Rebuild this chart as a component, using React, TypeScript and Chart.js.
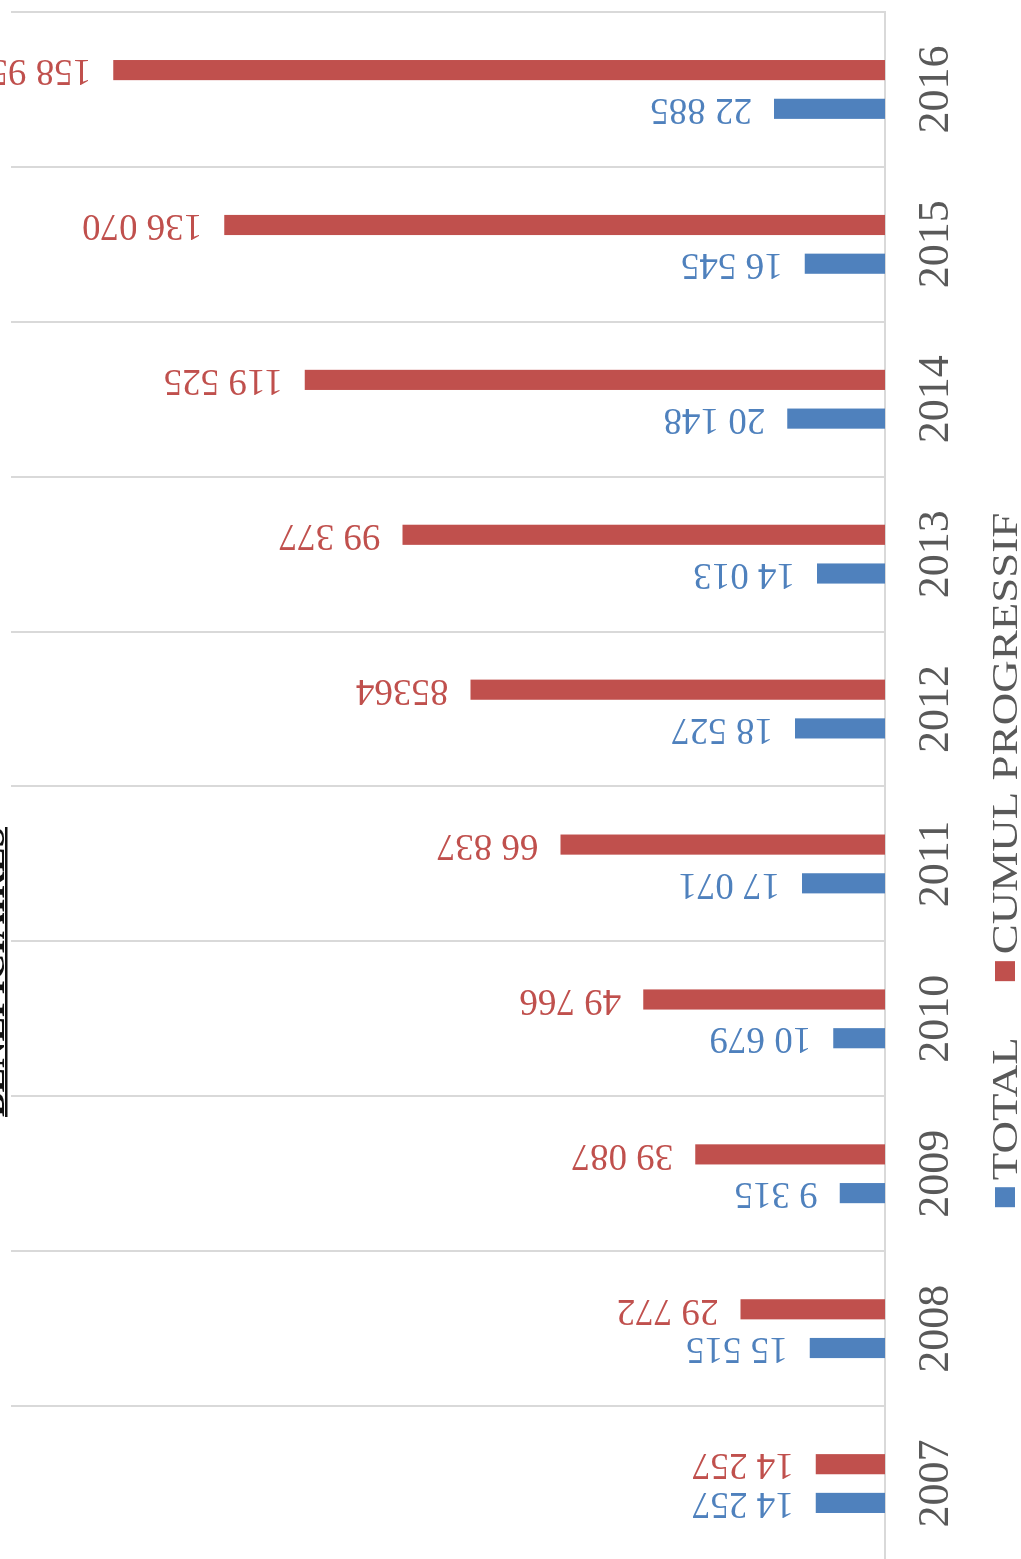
import React, { useEffect, useRef } from "react";
import { Chart, registerables } from "chart.js";

Chart.register(...registerables);

// ---------- data ----------
const years = ["2007", "2008", "2009", "2010", "2011", "2012", "2013", "2014", "2015", "2016"];
const seriesNames = ["TOTAL", "CUMUL PROGRESSIF"];
const totalValues = [14257, 15515, 9315, 10679, 17071, 18527, 14013, 20148, 16545, 22885];
const cumulValues = [14257, 29772, 39087, 49766, 66837, 85364, 99377, 119525, 136070, 158955];
const totalLabels = ["14 257", "15 515", "9 315", "10 679", "17 071", "18 527", "14 013", "20 148", "16 545", "22 885"];
const cumulLabels = ["14 257", "29 772", "39 087", "49 766", "66 837", "85364", "99 377", "119 525", "136 070", "158 955"];
const valueAxisMax = 180000;
const titleText = "BÉNÉFICIAIRES";

// ---------- styles ----------
const BLUE = "#4F81BD";
const RED = "#C0504D";
const GRAY_TEXT = "#595959";
const GRID = "#D9D9D9";
const SERIF = "'Liberation Serif', 'Times New Roman', serif";

const CANVAS_W = 1573;
const CANVAS_H = 1021;

const valueLabelPlugin = {
  id: "valueLabels",
  afterDatasetsDraw(chart: any) {
    const ctx = chart.ctx;
    const labelSets = [totalLabels, cumulLabels];
    chart.data.datasets.forEach((ds: any, di: number) => {
      const meta = chart.getDatasetMeta(di);
      meta.data.forEach((bar: any, i: number) => {
        ctx.save();
        ctx.translate(bar.x, bar.y - 22);
        ctx.rotate(-Math.PI / 2);
        ctx.font = `37px ${SERIF}`;
        ctx.fillStyle = ds.backgroundColor;
        ctx.textAlign = "left";
        ctx.textBaseline = "middle";
        ctx.fillText(labelSets[di][i], 0, 0);
        ctx.restore();
      });
    });
  },
};

const titlePlugin = {
  id: "clippedTitle",
  afterDraw(chart: any) {
    const ctx = chart.ctx;
    ctx.save();
    ctx.font = `bold 40px ${SERIF}`;
    const w = ctx.measureText(titleText).width;
    const targetW = 290;
    const size = 40 * targetW / w;
    ctx.font = `bold ${size}px ${SERIF}`;
    const cx = 609;
    ctx.fillStyle = "#111";
    ctx.textAlign = "center";
    ctx.textBaseline = "alphabetic";
    ctx.fillText(titleText, cx, 4);
    ctx.fillRect(cx - targetW / 2, 5, targetW, 2.5);
    ctx.restore();
  },
};

const legendPlugin = {
  id: "customLegend",
  afterDraw(chart: any) {
    const ctx = chart.ctx;
    const fontSize = 45;
    const box = 20;
    const gapBoxText = 7;
    const gapItems = 56;
    const centerX = 721;
    const centerY = 1005;
    ctx.save();
    ctx.font = `${fontSize}px ${SERIF}`;
    const items = chart.data.datasets.map((ds: any) => ({
      text: ds.label,
      color: ds.backgroundColor,
      w: ctx.measureText(ds.label).width,
    }));
    let total = 0;
    items.forEach((it: any, i: number) => {
      total += box + gapBoxText + it.w + (i < items.length - 1 ? gapItems : 0);
    });
    let x = centerX - total / 2;
    items.forEach((it: any) => {
      ctx.fillStyle = it.color;
      ctx.fillRect(x, centerY - box / 2, box, box);
      x += box + gapBoxText;
      ctx.save();
      ctx.translate(x, centerY);
      ctx.scale(1, 0.8);
      ctx.fillStyle = GRAY_TEXT;
      ctx.textAlign = "left";
      ctx.textBaseline = "alphabetic";
      ctx.fillText(it.text, 0, 0.331 * fontSize);
      ctx.restore();
      x += it.w + gapItems;
    });
    ctx.restore();
  },
};

export default function App() {
  const canvasRef = useRef<HTMLCanvasElement | null>(null);

  useEffect(() => {
    const canvas = canvasRef.current;
    if (!canvas) return;
    const chart = new Chart(canvas, {
      type: "bar",
      data: {
        labels: years,
        datasets: [
          {
            label: seriesNames[0],
            data: totalValues,
            backgroundColor: BLUE,
            borderWidth: 0,
            barPercentage: 0.52,
            categoryPercentage: 0.5,
          },
          {
            label: seriesNames[1],
            data: cumulValues,
            backgroundColor: RED,
            borderWidth: 0,
            barPercentage: 0.52,
            categoryPercentage: 0.5,
          },
        ],
      },
      options: {
        animation: false,
        responsive: false,
        maintainAspectRatio: false,
        devicePixelRatio: 1,
        layout: { padding: { left: 20, right: 4, top: 11, bottom: 0 } },
        plugins: {
          legend: { display: false },
          title: { display: false },
          tooltip: { enabled: false },
        },
        scales: {
          x: {
            grid: { offset: true, color: GRID, lineWidth: 2, drawTicks: false },
            border: { display: true, color: GRID, width: 2 },
            ticks: {
              color: GRAY_TEXT,
              font: { family: SERIF, size: 44 },
              padding: 25,
              maxRotation: 0,
              autoSkip: false,
            },
            afterFit: (scale: any) => {
              scale.height = 136;
            },
          },
          y: {
            display: false,
            min: 0,
            max: valueAxisMax,
          },
        },
      },
      plugins: [valueLabelPlugin, titlePlugin, legendPlugin],
    });
    return () => chart.destroy();
  }, []);

  return (
    <div
      style={{
        position: "fixed",
        left: 0,
        top: 0,
        width: CANVAS_W,
        height: CANVAS_H,
        transformOrigin: "0 0",
        transform: "translate(0px, 1581px) rotate(-90deg)",
        background: "#ffffff",
      }}
    >
      <canvas
        ref={canvasRef}
        width={CANVAS_W}
        height={CANVAS_H}
        style={{ display: "block", width: CANVAS_W, height: CANVAS_H }}
      />
    </div>
  );
}
